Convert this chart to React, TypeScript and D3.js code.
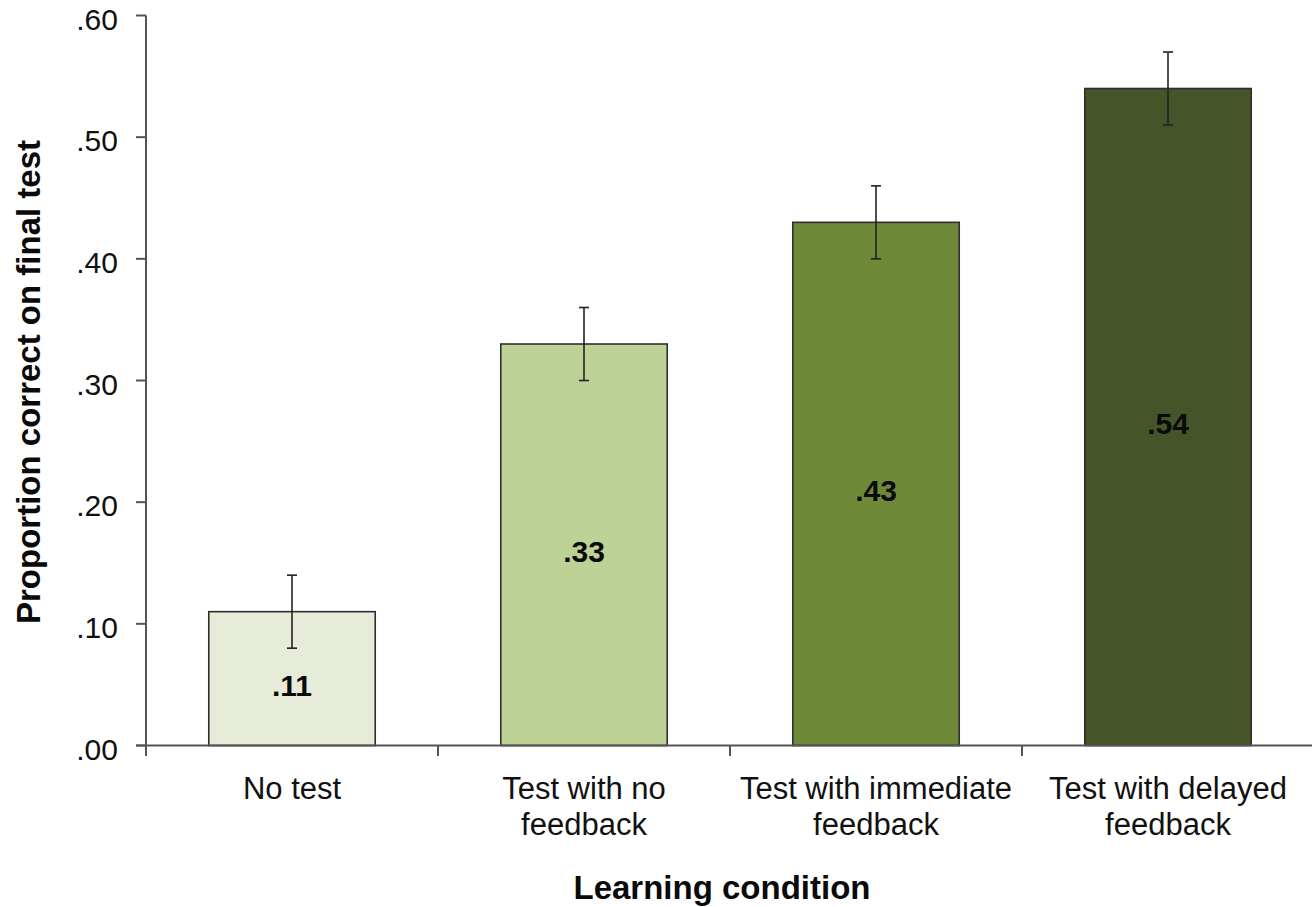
import React from "react";
import * as d3 from "d3";

const categories = ["No test", "Test with no feedback", "Test with immediate feedback", "Test with delayed feedback"];
const categoryLines = [["No test"], ["Test with no", "feedback"], ["Test with immediate", "feedback"], ["Test with delayed", "feedback"]];
const values = [0.11, 0.33, 0.43, 0.54];
const errors = [0.03, 0.03, 0.03, 0.03];
const valueLabels = [".11", ".33", ".43", ".54"];
const colors = ["#e7ecd8", "#bfd296", "#6e8a38", "#46542a"];
const yTicks = [0, 0.1, 0.2, 0.3, 0.4, 0.5, 0.6];
const yTickLabels = [".00", ".10", ".20", ".30", ".40", ".50", ".60"];

const W = 1312;
const H = 907;
const FONT = "'Liberation Sans', Arial, Helvetica, sans-serif";

export default function App() {
  const x = d3.scaleBand<string>().domain(categories).range([146, 1314]).padding(0);
  const y = d3.scaleLinear().domain([0, 0.6]).range([745.5, 15.5]);
  const bw = x.bandwidth() * 0.57;
  const axisColor = "#555";
  const boundaries = d3.range(categories.length).map((i) => 146 + i * x.step());

  return (
    <svg width={W} height={H} style={{ position: "absolute", left: 0, top: 0, background: "#fff" }} fontFamily={FONT}>
      {/* bars */}
      {categories.map((c, i) => {
        const cx = (x(c) as number) + x.bandwidth() / 2;
        const top = y(values[i]);
        return (
          <g key={c}>
            <rect x={cx - bw / 2} y={top} width={bw} height={y(0) - top} fill={colors[i]} stroke="#2e2e2e" strokeWidth={1.6} />
            <line x1={cx} x2={cx} y1={y(values[i] + errors[i])} y2={y(values[i] - errors[i])} stroke="#222" strokeWidth={1.6} />
            <line x1={cx - 5} x2={cx + 5} y1={y(values[i] + errors[i])} y2={y(values[i] + errors[i])} stroke="#222" strokeWidth={1.6} />
            <line x1={cx - 5} x2={cx + 5} y1={y(values[i] - errors[i])} y2={y(values[i] - errors[i])} stroke="#222" strokeWidth={1.6} />
            <text x={cx} y={(top + y(0)) / 2 + 17} textAnchor="middle" fontSize={30} fontWeight="bold" fill="#0a0a0a">
              {valueLabels[i]}
            </text>
            {categoryLines[i].map((ln, j) => (
              <text key={j} x={cx} y={799 + j * 36} textAnchor="middle" fontSize={31} fill="#111">
                {ln}
              </text>
            ))}
          </g>
        );
      })}
      {/* y axis */}
      <line x1={146} x2={146} y1={y(0.6)} y2={756} stroke={axisColor} strokeWidth={2} />
      {yTicks.map((t, i) => (
        <g key={t}>
          <line x1={136} x2={146} y1={y(t)} y2={y(t)} stroke={axisColor} strokeWidth={2} />
          <text x={118} y={y(t) + 14} textAnchor="end" fontSize={30} fill="#111">
            {yTickLabels[i]}
          </text>
        </g>
      ))}
      {/* x axis */}
      <line x1={136} x2={W} y1={y(0)} y2={y(0)} stroke={axisColor} strokeWidth={2} />
      {boundaries.slice(1).map((b) => (
        <line key={b} x1={b} x2={b} y1={y(0)} y2={756} stroke={axisColor} strokeWidth={2} />
      ))}
      {/* titles */}
      <text x={722} y={899} textAnchor="middle" fontSize={33} fontWeight="bold" fill="#0a0a0a">
        Learning condition
      </text>
      <text transform={`translate(40, 382) rotate(-90)`} textAnchor="middle" fontSize={33} fontWeight="bold" fill="#0a0a0a">
        Proportion correct on final test
      </text>
    </svg>
  );
}
